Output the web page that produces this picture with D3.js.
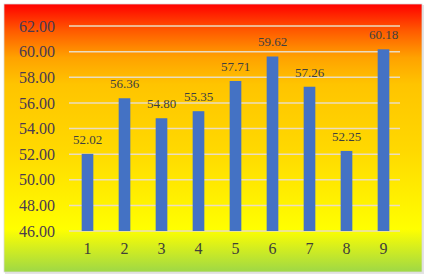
<!DOCTYPE html>
<html>
<head>
<meta charset="utf-8">
<script src="https://cdn.jsdelivr.net/npm/d3@7"></script>
<style>
  html, body { margin: 0; padding: 0; background: #fff; }
  svg { display: block; }
</style>
</head>
<body>
<div id="chart"></div>
<script>
// chart data
var categories = ["1", "2", "3", "4", "5", "6", "7", "8", "9"];
var values = [52.02, 56.36, 54.80, 55.35, 57.71, 59.62, 57.26, 52.25, 60.18];
var yTicks = [46, 48, 50, 52, 54, 56, 58, 60, 62];

var W = 426, H = 277;
var svg = d3.select("#chart").append("svg")
	.attr("width", W)
	.attr("height", H);

// background gradient (red -> orange -> yellow -> green)
var defs = svg.append("defs");
var grad = defs.append("linearGradient")
	.attr("id", "bg")
	.attr("x1", 0).attr("y1", 0).attr("x2", 0).attr("y2", 1);
[
	[0, "#ff0000"],
	[0.1, "#ff5a00"],
	[0.2, "#ffa200"],
	[0.3, "#ffc400"],
	[0.55, "#ffd900"],
	[0.84, "#ffff00"],
	[1, "#9ed846"]
].forEach(function(s){
	grad.append("stop").attr("offset", s[0]).attr("stop-color", s[1]);
});

// shadow-ish frame
svg.append("rect")
	.attr("x", 5).attr("y", 5)
	.attr("width", 419).attr("height", 269)
	.attr("fill", "#e4e4e4");
svg.append("rect")
	.attr("x", 4).attr("y", 4)
	.attr("width", 418).attr("height", 268)
	.attr("fill", "url(#bg)")
	.attr("stroke", "#d9d9d9")
	.attr("stroke-width", 0.75);

var x = d3.scaleBand()
	.domain(categories)
	.range([69, 402])
	.paddingInner(0.685)
	.paddingOuter(0.3425);

var y = d3.scaleLinear()
	.domain([46, 62])
	.range([231, 26]);

// gridlines
svg.append("g")
	.selectAll("line")
	.data(yTicks)
	.join("line")
	.attr("x1", 69)
	.attr("x2", 400)
	.attr("y1", function(d){ return y(d); })
	.attr("y2", function(d){ return y(d); })
	.attr("stroke", "#eadcc0")
	.attr("stroke-width", 1.5);

// y axis labels
var yAxis = d3.axisLeft(y)
	.tickValues(yTicks)
	.tickSize(0)
	.tickPadding(14)
	.tickFormat(d3.format(".2f"));
var gy = svg.append("g")
	.attr("transform", "translate(69,0)")
	.call(yAxis);
gy.select(".domain").remove();
gy.selectAll("text")
	.attr("fill", "#4a3a50")
	.style("font-family", "'Liberation Serif', 'Times New Roman', serif")
	.style("font-size", "16px");

// x axis labels
var xAxis = d3.axisBottom(x).tickSize(0).tickPadding(12);
var gx = svg.append("g")
	.attr("transform", "translate(0,231)")
	.call(xAxis);
gx.select(".domain").remove();
gx.selectAll("text")
	.attr("fill", "#40403a")
	.style("font-family", "'Liberation Serif', 'Times New Roman', serif")
	.style("font-size", "16px");

// bars
svg.append("g")
	.selectAll("rect")
	.data(values)
	.join("rect")
	.attr("x", function(d, i){ return x(categories[i]); })
	.attr("y", function(d){ return y(d); })
	.attr("width", x.bandwidth())
	.attr("height", function(d){ return y(46) - y(d); })
	.attr("fill", "#4472c4");

// data labels
svg.append("g")
	.selectAll("text")
	.data(values)
	.join("text")
	.attr("x", function(d, i){ return x(categories[i]) + x.bandwidth() / 2; })
	.attr("y", function(d){ return y(d) - 10; })
	.attr("text-anchor", "middle")
	.attr("fill", "#404040")
	.style("font-family", "'Liberation Serif', 'Times New Roman', serif")
	.style("font-size", "13px")
	.text(function(d){ return d3.format(".2f")(d); });
</script>
</body>
</html>
